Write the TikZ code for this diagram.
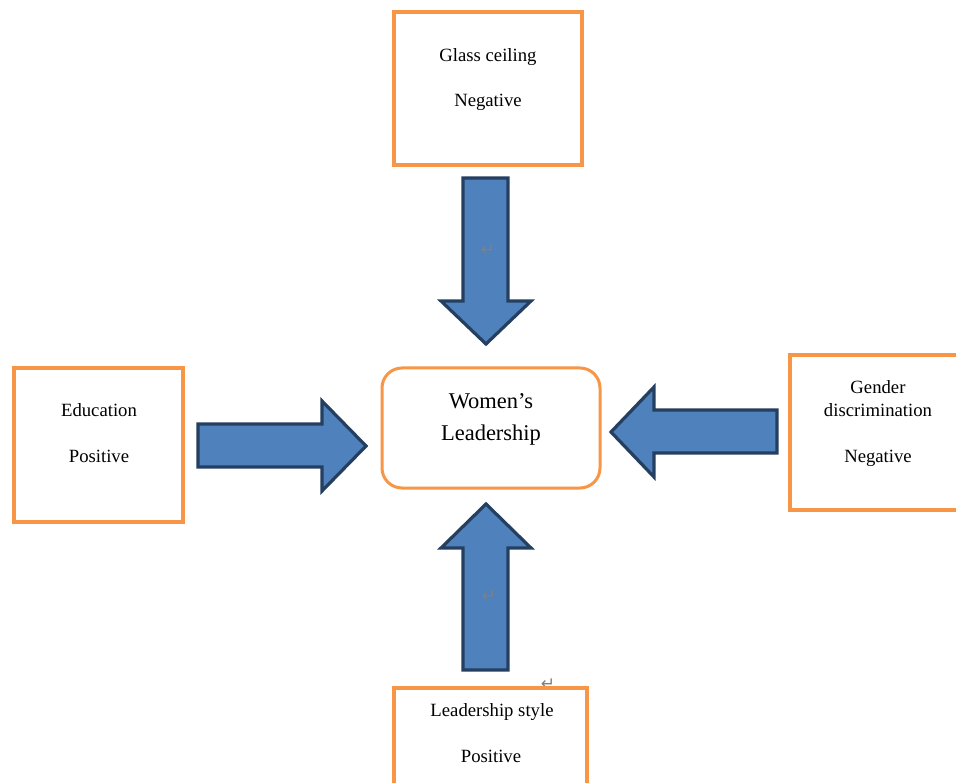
\documentclass[tikz,border=0pt]{standalone}
\usepackage{fontspec}
\setmainfont{Liberation Serif}
\newfontfamily\symfont{DejaVu Sans}
\definecolor{boxorange}{HTML}{F79646}
\definecolor{arrfill}{HTML}{4F81BD}
\definecolor{arrline}{HTML}{243F60}
\begin{document}
\begin{tikzpicture}[x=1pt,y=-1pt,
  factorbox/.style={draw=boxorange,line width=3.2pt,fill=white},
  blockarrow/.style={draw=arrline,fill=arrfill,line width=3.2pt,line join=miter},
  lbl/.style={anchor=base,inner sep=0pt,font=\fontsize{18.7}{22}\selectfont},
  biglbl/.style={anchor=base,inner sep=0pt,font=\fontsize{22.5}{26}\selectfont},
  pmark/.style={inner sep=0pt,text=gray,font=\symfont\fontsize{17}{18}\selectfont}]
\useasboundingbox (0,0) rectangle (956,783);
\clip (0,0) rectangle (956,783);
\fill[white] (0,0) rectangle (956,783);

% paragraph mark behind bottom box
\node[pmark] (pm3) at (548,684) {↵};

% boxes
\draw[factorbox] (394,12) rectangle (582,165);
\node[inner sep=0pt,minimum width=188pt,minimum height=153pt] (glass) at (488,88.5) {};
\draw[factorbox] (14,368) rectangle (183,522);
\node[inner sep=0pt,minimum width=169pt,minimum height=154pt] (edu) at (98.5,445) {};
\draw[factorbox] (790,355) rectangle (966,510);
\node[inner sep=0pt,minimum width=176pt,minimum height=155pt] (gender) at (878,432.5) {};
\draw[factorbox] (394,688) rectangle (587,795);
\node[inner sep=0pt,minimum width=193pt,minimum height=107pt] (style) at (490.5,741.5) {};
\draw[factorbox,line width=3pt,rounded corners=20pt] (382,368) rectangle (600,488);
\node[inner sep=0pt,minimum width=218pt,minimum height=120pt] (women) at (491,428) {};

% texts
\node[lbl] (t1) at (488,61.5) {Glass ceiling};
\node[lbl] (t2) at (488,107) {Negative};
\node[lbl] (t3) at (99,417) {Education};
\node[lbl] (t4) at (99,463) {Positive};
\node[lbl] (t5) at (878,394) {Gender};
\node[lbl] (t6) at (878,417) {discrimination};
\node[lbl] (t7) at (878,463) {Negative};
\node[lbl] (t8) at (492,716) {Leadership style};
\node[lbl] (t9) at (491,762) {Positive};
\node[biglbl] (t10) at (491,409) {Women’s};
\node[biglbl] (t11) at (491,440) {Leadership};

% block arrows
\draw[blockarrow] (463,178) -- (508,178) -- (508,301) -- (531,301) -- (486,344)
  -- (441,301) -- (463,301) -- cycle;
\draw[blockarrow] (463,670) -- (508,670) -- (508,548) -- (531,548) -- (486,504)
  -- (441,548) -- (463,548) -- cycle;
\draw[blockarrow] (198,424) -- (322,424) -- (322,401) -- (366,446) -- (322,491)
  -- (322,467) -- (198,467) -- cycle;
\draw[blockarrow] (777,410) -- (654,410) -- (654,387) -- (611,432) -- (654,477)
  -- (654,453) -- (777,453) -- cycle;

% paragraph marks on arrows
\node[pmark] (pm1) at (488,250) {↵};
\node[pmark] (pm2) at (489,596) {↵};
\end{tikzpicture}
\end{document}
